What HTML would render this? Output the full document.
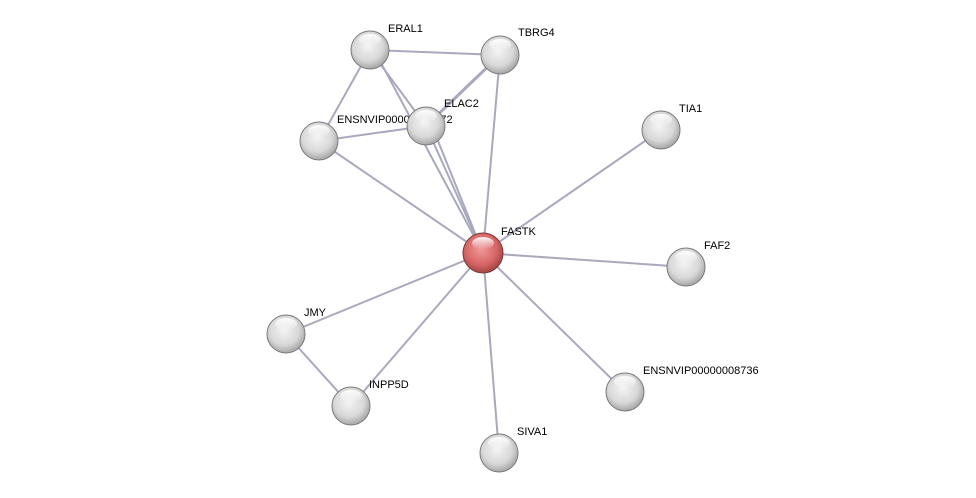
<!DOCTYPE html>
<html><head><style>body{margin:0;background:#fff}svg{display:block}text{font-family:"Liberation Sans",Arial,sans-serif;font-size:11px;fill:#000}</style></head>
<body>
<svg width="976" height="498" viewBox="0 0 976 498">
<defs>
<radialGradient id="g" cx="0.45" cy="0.4" r="0.65">
<stop offset="0" stop-color="#f4f4f4"/><stop offset="0.6" stop-color="#d8d8d8"/><stop offset="1" stop-color="#9a9a9a"/></radialGradient>
<radialGradient id="r" cx="0.45" cy="0.4" r="0.65">
<stop offset="0" stop-color="#f09a9a"/><stop offset="0.6" stop-color="#d86666"/><stop offset="1" stop-color="#9a3c3c"/></radialGradient>
<linearGradient id="h" x1="0" y1="0" x2="0" y2="1"><stop offset="0" stop-color="#fff" stop-opacity="0.95"/><stop offset="1" stop-color="#fff" stop-opacity="0"/></linearGradient>
<g id="hl"><ellipse cx="0" cy="-10" rx="11" ry="6" fill="url(#h)"/></g>
</defs>
<g stroke="#a9a9be" stroke-width="2" fill="none">
<line x1="370" y1="50" x2="500" y2="55"/>
<line x1="370" y1="50" x2="319" y2="141"/>
<line x1="370" y1="50" x2="426" y2="126"/>
<line x1="374" y1="50" x2="483" y2="253"/>
<line x1="426" y1="126" x2="483" y2="253"/>
<line x1="432" y1="126" x2="483" y2="253"/>
<line x1="426" y1="126" x2="500" y2="55" stroke-width="3"/>
<line x1="500" y1="55" x2="483" y2="253"/>
<line x1="319" y1="141" x2="426" y2="126"/>
<line x1="319" y1="141" x2="483" y2="253"/>
<line x1="661" y1="130" x2="483" y2="253"/>
<line x1="686" y1="267" x2="483" y2="253"/>
<line x1="286" y1="334" x2="483" y2="253"/>
<line x1="286" y1="334" x2="351" y2="406"/>
<line x1="351" y1="406" x2="483" y2="253"/>
<line x1="625" y1="392" x2="483" y2="253"/>
<line x1="499" y1="453" x2="483" y2="253"/>
</g>
<g stroke="#7a7a7a" stroke-width="1">
<circle cx="370" cy="50" r="19" fill="url(#g)"/>
<circle cx="500" cy="55" r="19" fill="url(#g)"/>
<circle cx="319" cy="141" r="19" fill="url(#g)"/>
<circle cx="661" cy="130" r="19" fill="url(#g)"/>
<circle cx="686" cy="267" r="19" fill="url(#g)"/>
<circle cx="286" cy="334" r="19" fill="url(#g)"/>
<circle cx="351" cy="406" r="19" fill="url(#g)"/>
<circle cx="625" cy="392" r="19" fill="url(#g)"/>
<circle cx="499" cy="453" r="19" fill="url(#g)"/>
</g>
<text x="337" y="123">ENSNVIP00000007872</text>
<circle cx="426" cy="126" r="19" fill="url(#g)" stroke="#7a7a7a"/>
<circle cx="483" cy="253" r="20" fill="url(#r)" stroke="#7a3a3a"/>
<g>
<use href="#hl" x="370" y="50"/><use href="#hl" x="500" y="55"/><use href="#hl" x="319" y="141"/><use href="#hl" x="426" y="126"/><use href="#hl" x="661" y="130"/><use href="#hl" x="686" y="267"/><use href="#hl" x="286" y="334"/><use href="#hl" x="351" y="406"/><use href="#hl" x="625" y="392"/><use href="#hl" x="499" y="453"/><use href="#hl" x="483" y="253"/>
</g>
<text x="388" y="32">ERAL1</text>
<text x="518" y="36">TBRG4</text>
<text x="444" y="107">ELAC2</text>
<text x="679" y="112">TIA1</text>
<text x="501" y="235">FASTK</text>
<text x="704" y="249">FAF2</text>
<text x="304" y="316">JMY</text>
<text x="369" y="388">INPP5D</text>
<text x="643" y="374">ENSNVIP00000008736</text>
<text x="517" y="435">SIVA1</text>
</svg>
</body></html>
